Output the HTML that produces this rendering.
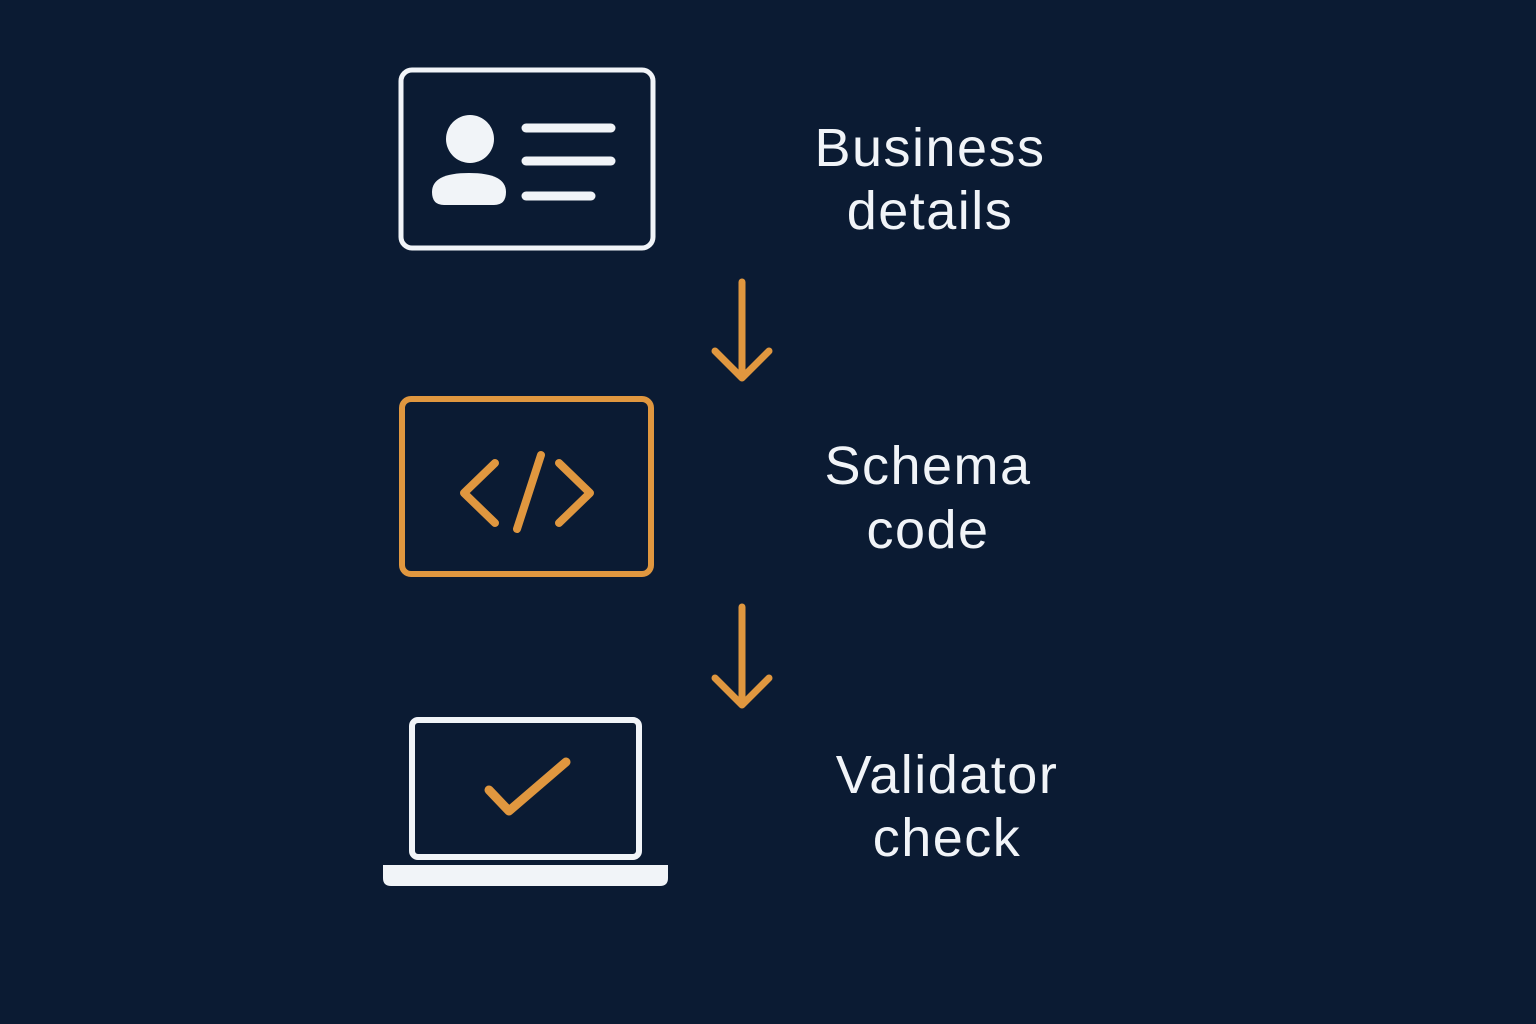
<!DOCTYPE html>
<html><head><meta charset="utf-8"><style>
html,body{margin:0;padding:0;background:#0b1b33;}
svg{display:block;}
text{font-family:"Liberation Sans",sans-serif;fill:#f1f4f8;font-size:54px;letter-spacing:1.5px;text-anchor:middle;}
</style></head><body>
<svg width="1536" height="1024" viewBox="0 0 1536 1024">
<rect width="1536" height="1024" fill="#0b1b33"/>
<rect x="401" y="70" width="252" height="178" rx="11" fill="none" stroke="#f1f4f8" stroke-width="5"/>
<circle cx="470" cy="139" r="24" fill="#f1f4f8"/>
<path d="M432 192 Q432 173 469 173 Q506 173 506 192 Q506 205 494 205 L444 205 Q432 205 432 192Z" fill="#f1f4f8"/>
<g stroke="#f1f4f8" stroke-width="9" stroke-linecap="round">
<line x1="526" y1="128" x2="611" y2="128"/>
<line x1="526" y1="161" x2="611" y2="161"/>
<line x1="526" y1="196" x2="591" y2="196"/>
</g>
<text x="930" y="166">Business</text>
<text x="930" y="229">details</text>
<g stroke="#e0973f" stroke-width="7" stroke-linecap="round" stroke-linejoin="round" fill="none">
<line x1="742" y1="282" x2="742" y2="377"/>
<polyline points="715,351 742,378 769,351"/>
</g>
<rect x="402" y="399" width="249" height="175" rx="9" fill="none" stroke="#e0973f" stroke-width="6"/>
<g stroke="#e0973f" stroke-width="8" stroke-linecap="round" stroke-linejoin="round" fill="none">
<polyline points="495,463 464,493 495,523"/>
<line x1="541" y1="455" x2="517" y2="529"/>
<polyline points="559,463 590,493 559,523"/>
</g>
<text x="928" y="484">Schema</text>
<text x="928" y="548">code</text>
<g stroke="#e0973f" stroke-width="7" stroke-linecap="round" stroke-linejoin="round" fill="none">
<line x1="742" y1="607" x2="742" y2="704"/>
<polyline points="715,678 742,705 769,678"/>
</g>
<rect x="412" y="720" width="227" height="137" rx="6" fill="none" stroke="#f1f4f8" stroke-width="6"/>
<path d="M383 865 L668 865 L668 878 Q668 886 660 886 L391 886 Q383 886 383 878Z" fill="#f1f4f8"/>
<polyline points="489,790 509,811 566,762" fill="none" stroke="#e0973f" stroke-width="9" stroke-linecap="round" stroke-linejoin="round"/>
<text x="947" y="793">Validator</text>
<text x="947" y="856">check</text>
</svg>
</body></html>
